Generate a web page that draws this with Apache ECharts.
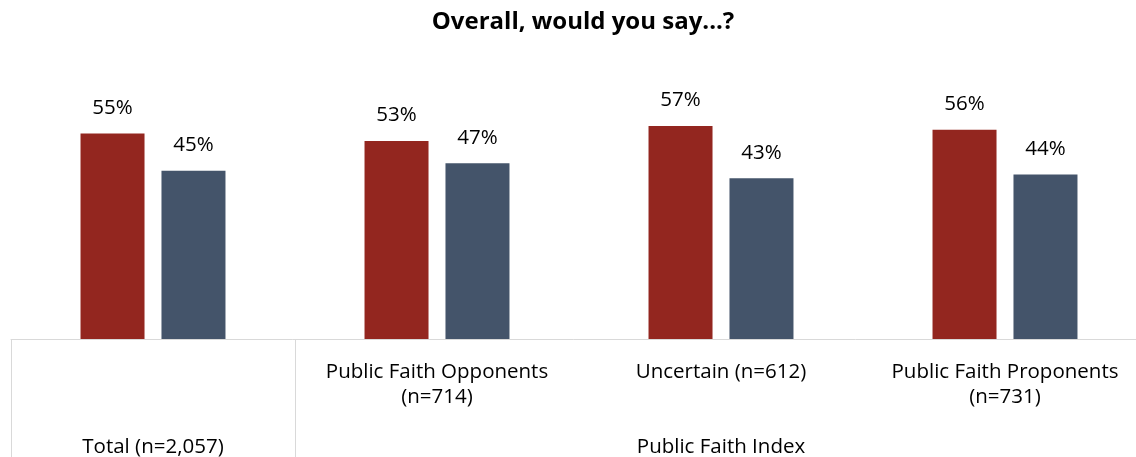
<!DOCTYPE html>
<html>
<head>
<meta charset="utf-8">
<script src="https://cdn.jsdelivr.net/npm/echarts@6/dist/echarts.min.js"></script>
<style>
  html, body { margin: 0; padding: 0; background: #ffffff; }
  #chart { width: 1136px; height: 457px; }
</style>
</head>
<body>
<div id="chart"></div>
<script>
// Share of respondents, by Public Faith Index group
const categories = [
  "",
  "Public Faith Opponents\n(n=714)",
  "Uncertain (n=612)",
  "Public Faith Proponents\n(n=731)"
];
// Lower row of the axis: overall sample and the index grouping
const groupLabels = ["Total (n=2,057)", "", "Public Faith Index", ""];
const firstAnswer = [55, 53, 57, 56];
const secondAnswer = [45, 47, 43, 44];

const FONT = "'Open Sans', 'Noto Sans', sans-serif";
const gridLine = "#d9d9d9";

const chart = echarts.init(document.getElementById("chart"));

const barLabel = {
  show: true,
  position: "top",
  distance: 15,
  formatter: "{c}%",
  fontFamily: FONT,
  fontSize: 20.5,
  color: "#000000"
};

chart.setOption({
  animation: false,
  title: {
    text: "Overall, would you say...?",
    left: 578,
    textAlign: "center",
    top: 5,
    textStyle: { fontFamily: FONT, fontSize: 24, fontWeight: "bold", color: "#000000" }
  },
  grid: {
    left: 11,
    top: 40,
    right: -11,
    bottom: 118,
    containLabel: false,
    outerBoundsMode: "none"
  },
  xAxis: [
    {
      type: "category",
      position: "bottom",
      data: categories,
      axisLine: { show: true, lineStyle: { color: gridLine, width: 1 } },
      axisTick: {
        show: true,
        length: 120,
        interval: function (index) { return index <= 1; },
        lineStyle: { color: gridLine, width: 1 }
      },
      axisLabel: {
        interval: 0,
        margin: 21,
        fontFamily: FONT,
        fontSize: 20.5,
        lineHeight: 25,
        color: "#000000"
      }
    },
    {
      type: "category",
      position: "bottom",
      offset: 0,
      data: groupLabels,
      axisLine: { show: false },
      axisTick: { show: false },
      axisLabel: {
        interval: 0,
        margin: 96,
        fontFamily: FONT,
        fontSize: 20.5,
        lineHeight: 25,
        color: "#000000"
      }
    }
  ],
  yAxis: {
    type: "value",
    min: 0,
    max: 80,
    show: false,
    splitLine: { show: false }
  },
  series: [
    {
      type: "bar",
      data: firstAnswer,
      barWidth: 64,
      barGap: "26.5%",
      itemStyle: { color: "#93261f" },
      label: barLabel
    },
    {
      type: "bar",
      data: secondAnswer,
      barWidth: 64,
      itemStyle: { color: "#44546a" },
      label: barLabel
    }
  ]
});
</script>
</body>
</html>
